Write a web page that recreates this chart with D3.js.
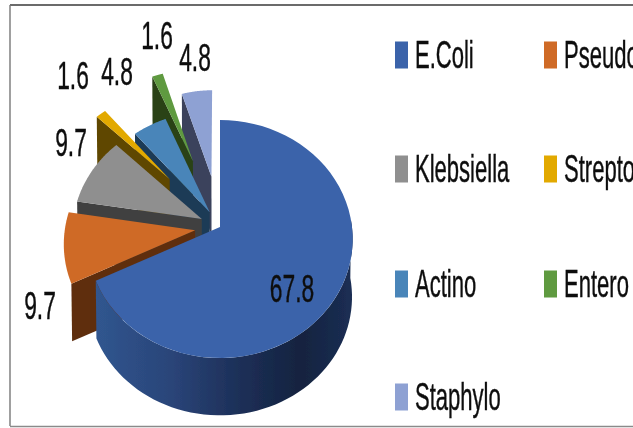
<!DOCTYPE html>
<html><head><meta charset="utf-8"><script src="https://cdn.jsdelivr.net/npm/d3@7"></script>
<style>html,body{margin:0;padding:0;background:#fff;overflow:hidden}svg{display:block}text{font-family:"Liberation Sans",sans-serif;fill:#111;stroke:#111;stroke-width:.45px}</style></head>
<body><svg id="c" width="633" height="428"></svg>
<script>
const categories=["E.Coli","Pseudo","Klebsiella","Strepto","Actino","Entero","Staphylo"];
const values=[67.8,9.7,9.7,1.6,4.8,1.6,4.8];
const valueLabels=["67.8","9.7","9.7","1.6","4.8","1.6","4.8"];
const topColors=["#3a63aa","#cf6b27","#8f8f8f","#e2a900","#4a85b9","#5f9a3f","#8ea1d3"];
const sideColors=["#1f335e","#5e2f10","#404040","#5f4700","#1f3b57","#2a4219","#3a425c"];
// layout
const explode=[0,.19,.155,.58,.15,.63,.45];
const radius=[1,.985,.98,.88,.96,.95,.87];
const labelPos=[[292,288],[40,305],[71,142],[73,75],[117,71],[157,35],[195,57]];
const legendX=[395,544], legendY=[55,169,284,397];
const cx=220,cy=227,rx=132,ry=117.8,p=.101,h=58,bottomScale=.995;

const svg=d3.select("#c");
const defs=svg.append("defs");
defs.append("filter").attr("id","soft").append("feGaussianBlur").attr("stdDeviation",.55);
const g=defs.append("linearGradient").attr("id","side").attr("gradientUnits","userSpaceOnUse").attr("x1",96).attr("x2",352).attr("y1",0).attr("y2",0);
[[0,"#30568f"],[.3,"#2a4478"],[.55,"#1d3059"],[.8,"#14233f"],[1,"#1b2e54"]].forEach(([o,c])=>g.append("stop").attr("offset",o).attr("stop-color",c));

svg.append("rect").attr("x",0).attr("y",0).attr("width",633).attr("height",428).attr("fill","#fff");
const frame=svg.append("g");
frame.append("line").attr("x1",10).attr("x2",633).attr("y1",5).attr("y2",5).attr("stroke","#3a3a3a").attr("stroke-width",1.6);
frame.append("line").attr("x1",10).attr("x2",10).attr("y1",5).attr("y2",426).attr("stroke","#777").attr("stroke-width",1.4);
frame.append("line").attr("x1",10).attr("x2",633).attr("y1",426.5).attr("y2",426.5).attr("stroke","#8a8a8a").attr("stroke-width",1.3);

const pie=d3.pie().sort(null).value(d=>d).startAngle(0).endAngle(2*Math.PI);
const arcs=pie(values);
const line=d3.line();
function project(u,v,drop,s){const w=1-p*v;return [cx+s*rx*u/w, cy+s*ry*v/w+drop];}
function apex(i){const a=arcs[i],m=(a.startAngle+a.endAngle)/2;return [explode[i]*Math.sin(m),-explode[i]*Math.cos(m)];}
function rim(i,t){const o=apex(i),r=radius[i];return [o[0]+r*Math.sin(t),o[1]-r*Math.cos(t)];}
function rimPts(i,t0,t1,drop,s){return d3.range(0,61).map(k=>{const q=rim(i,t0+(t1-t0)*k/60);return project(q[0],q[1],drop,s);});}

const pies=svg.append("g").attr("filter","url(#soft)");
// back to front: last slice first, first slice on top
d3.range(values.length-1,-1,-1).forEach(i=>{
  const a=arcs[i],o=apex(i);
  const A=project(o[0],o[1],0,1),Ab=project(o[0],o[1],h,bottomScale);
  const s0=rim(i,a.startAngle);
  const S=project(s0[0],s0[1],0,1),Sb=project(s0[0],s0[1],h,bottomScale);
  const fill=i===0?"url(#side)":sideColors[i];
  // radial face on the start edge
  pies.append("path").attr("d",line([A,S,Sb,Ab])+"Z").attr("fill",fill);
  // outer wall of the front slice
  if(i===0){
    const t0=Math.PI/2-.06,t1=a.endAngle;
    pies.append("path").attr("d",line(rimPts(i,t0,t1,0,1).concat(rimPts(i,t0,t1,h,bottomScale).reverse()))+"Z").attr("fill",fill);
  }
  pies.append("path").attr("d",line([A].concat(rimPts(i,a.startAngle,a.endAngle,0,1)))+"Z").attr("fill",topColors[i]);
});

const text=svg.append("g").attr("filter","url(#soft)");
function label(x,y,s,anchor,sx){
  text.append("text").attr("transform",`translate(${x},${y}) scale(${sx},1)`).attr("text-anchor",anchor).attr("font-size",38).text(s);
}
valueLabels.forEach((s,i)=>label(labelPos[i][0],labelPos[i][1]+13.5,s,"middle",.6));
categories.forEach((c,i)=>{
  const x=legendX[i%2],y=legendY[Math.floor(i/2)];
  text.append("rect").attr("x",x).attr("y",y-13.5).attr("width",13).attr("height",27).attr("fill",topColors[i]).style("stroke","none");
  label(x+20,y+13,c,"start",.58);
});
</script></body></html>
